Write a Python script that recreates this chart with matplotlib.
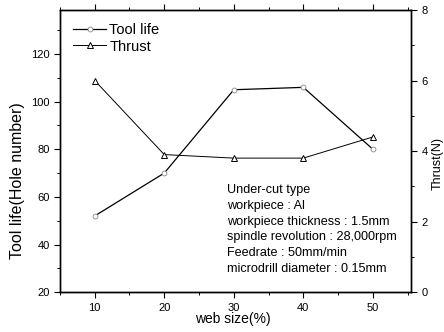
import matplotlib
matplotlib.use("Agg")
import matplotlib.pyplot as plt
from matplotlib.ticker import MultipleLocator

plt.rcParams['font.family'] = ['Liberation Sans', 'DejaVu Sans']

web_size = [10, 20, 30, 40, 50]
tool_life = [52, 70, 105, 106, 80]
thrust = [6.0, 3.9, 3.8, 3.8, 4.4]

info_lines = [
    "Under-cut type",
    "workpiece : Al",
    "workpiece thickness : 1.5mm",
    "spindle revolution : 28,000rpm",
    "Feedrate : 50mm/min",
    "microdrill diameter : 0.15mm",
]

fig = plt.figure(figsize=(4.44, 3.32), dpi=100)
ax = fig.add_axes([0.135, 0.12, 0.791, 0.85])
ax2 = ax.twinx()

l1, = ax.plot(web_size, tool_life, color='black', lw=0.9, marker='o',
              ms=3.5, mfc='white', mec='#888888', mew=0.6, label='Tool life')
l2, = ax2.plot(web_size, thrust, color='black', lw=0.7, marker='^',
               ms=5, mfc='white', mec='black', mew=0.7, label='Thrust')

ax.set_xlim(5, 55.5)
ax.set_ylim(20, 138.5)
ax2.set_ylim(0, 8)

ax.xaxis.set_major_locator(MultipleLocator(10))
ax.xaxis.set_minor_locator(MultipleLocator(5))
ax.yaxis.set_major_locator(MultipleLocator(20))
ax.yaxis.set_minor_locator(MultipleLocator(10))
ax2.yaxis.set_major_locator(MultipleLocator(2))
ax2.yaxis.set_minor_locator(MultipleLocator(1))

ax.tick_params(axis='both', which='major', direction='out', length=4, width=0.8, labelsize=8)
ax.tick_params(axis='both', which='minor', direction='out', length=2.5, width=0.7)
ax.tick_params(axis='x', top=True, which='both')
ax2.tick_params(axis='y', which='major', direction='out', length=4, width=0.8, labelsize=8)
ax2.tick_params(axis='y', which='minor', direction='out', length=2.5, width=0.7)

for a in (ax, ax2):
    for s in a.spines.values():
        s.set_linewidth(1.0)

ax.set_xlabel('web size(%)', fontsize=10, va='center')
ax.xaxis.set_label_coords(0.491, -0.095)
ax.set_ylabel('Tool life(Hole number)', fontsize=11.5, va='center')
ax.yaxis.set_label_coords(-0.12, 0.395)
ax2.set_ylabel('Thrust(N)', fontsize=9, va='center')
ax2.yaxis.set_label_coords(1.075, 0.457)

leg = ax.legend(handles=[l1, l2], loc='upper left', frameon=False, fontsize=10.5,
                handlelength=2.3, handletextpad=0.2, borderaxespad=0,
                borderpad=0, labelspacing=0.2, bbox_to_anchor=(0.037, 0.955))

y0 = 0.362
for i, txt in enumerate(info_lines):
    ax.text(0.477, y0 - i * 0.056, txt, transform=ax.transAxes,
            fontsize=9.1, va='center', ha='left')

fig.savefig('out.png', dpi=100)
